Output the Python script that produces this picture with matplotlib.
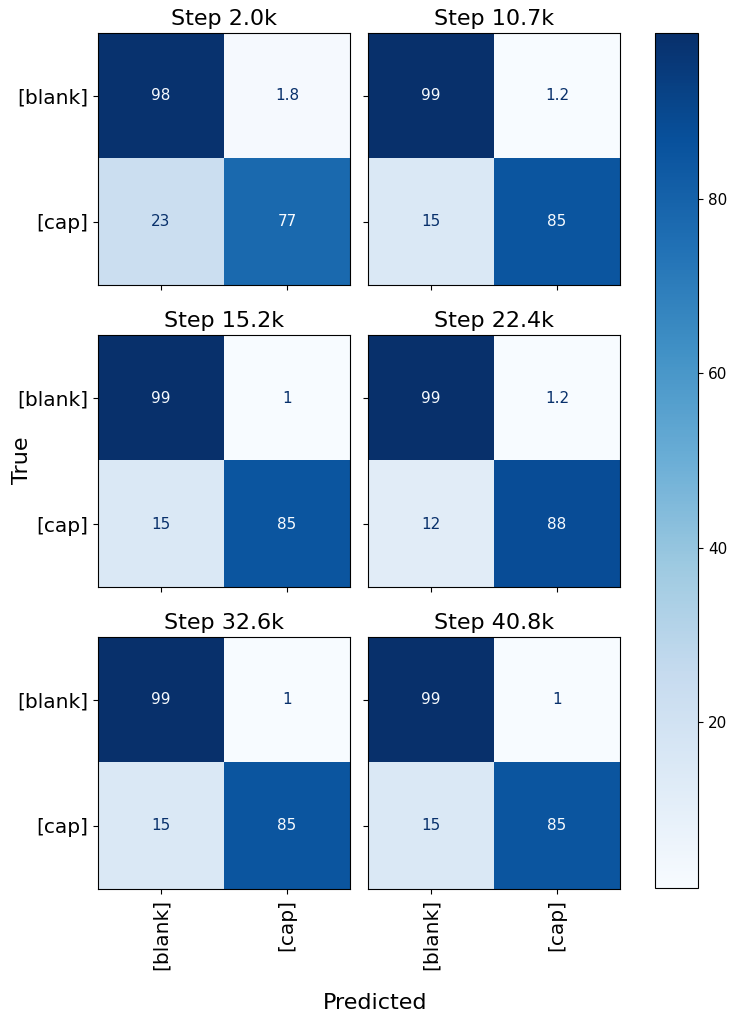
import matplotlib
matplotlib.use("Agg")
import matplotlib.pyplot as plt
import numpy as np

# row-normalised confusion matrices (%) at each checkpoint
steps = ["2.0k", "10.7k", "15.2k", "22.4k", "32.6k", "40.8k"]
classes = ["[blank]", "[cap]"]
cm_2k = [[98.2, 1.8], [22.6, 77.4]]
cm_10k = [[98.8, 1.2], [15.0, 85.0]]
cm_15k = [[99.0, 1.0], [15.0, 85.0]]
cm_22k = [[98.8, 1.2], [12.0, 88.0]]
cm_32k = [[99.0, 1.0], [15.0, 85.0]]
cm_40k = [[99.0, 1.0], [15.0, 85.0]]
matrices = [cm_2k, cm_10k, cm_15k, cm_22k, cm_32k, cm_40k]

fig = plt.figure(figsize=(7.34, 10.17), dpi=100)
cmap = plt.get_cmap("Blues")
vmin = min(np.min(m) for m in matrices)
vmax = max(np.max(m) for m in matrices)

lefts = [0.1335, 0.5014]
bottoms = [0.7198, 0.4228, 0.1259]
w, h = 0.3433, 0.2478

im = None
for k, (step, cm) in enumerate(zip(steps, matrices)):
    r, c = divmod(k, 2)
    ax = fig.add_axes([lefts[c], bottoms[r], w, h])
    cm = np.array(cm)
    im = ax.imshow(cm, cmap=cmap, vmin=vmin, vmax=vmax, aspect="auto")
    thresh = (cm.max() + cm.min()) / 2
    for i in range(2):
        for j in range(2):
            color = cmap(0.0) if cm[i, j] > thresh else cmap(1.0)
            ax.text(j, i, format(cm[i, j], ".2g"), ha="center", va="center",
                    color=color, fontsize=11)
    ax.set_title("Step " + step, fontsize=16)
    ax.set_xticks([0, 1])
    ax.set_yticks([0, 1])
    if c == 0:
        ax.set_yticklabels(classes, fontsize=14.5)
    else:
        ax.set_yticklabels([])
    if r == 2:
        ax.set_xticklabels(classes, fontsize=14.5, rotation=90)
    else:
        ax.set_xticklabels([])

cax = fig.add_axes([0.8924, 0.1268, 0.0586, 0.8407])
cb = fig.colorbar(im, cax=cax)
cb.set_ticks([20, 40, 60, 80])
cb.ax.tick_params(labelsize=11)

fig.text(0.03, 0.547, "True", rotation=90, ha="center", va="center", fontsize=16)
fig.text(0.511, 0.014, "Predicted", ha="center", va="center", fontsize=16)

fig.savefig("out.png", dpi=100)
